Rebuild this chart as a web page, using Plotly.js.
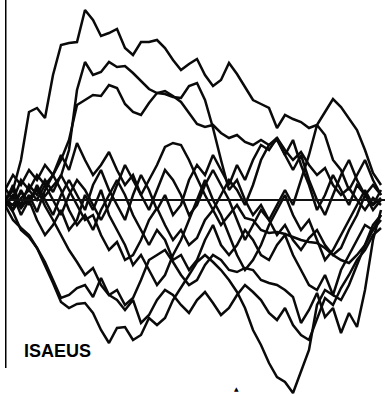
<!DOCTYPE html>
<html>
<head>
<meta charset="utf-8">
<script src="https://cdn.plot.ly/plotly-3.0.1.min.js"></script>
<style>html,body{margin:0;padding:0;background:#fff;}#chart{width:385px;height:394px;}</style>
</head>
<body>
<div id="chart"></div>
<script>
// step positions along the horizontal axis
const steps = [0,8,16,24,32,40,48,56,64,72,80,88,96,104,112,120,128,136,144,152,160,168,176,184,192,200,208,216,224,232,240,248,256,264,272,280,288,296,304,312,320,328,336,344,352,360,368,376];

// walk values (deviation from the base line)
const walkA = [0,10,40,88,92,82,125,155,157,158,190,180,164,167,171,152,145,158,158,160,152,140,130,136,141,125,114,120,137,126,113,100,96,92,72,85,81,78,72,75,88,101,93,82,70,50,27,15];
const walkB = [-5,5,-8,2,10,4,14,24,50,110,138,125,128,138,133,134,127,119,111,107,106,103,102,114,117,100,72,40,10,20,0,-15,-5,-20,-35,-25,-40,-50,-38,-30,-45,-55,-48,-30,-15,5,-5,2];
const walkC = [0,-10,2,10,0,15,25,40,60,95,100,105,104,115,112,96,88,85,97,107,109,104,98,87,76,73,75,67,62,65,58,55,60,55,62,50,40,48,35,25,32,15,5,12,0,-10,2,-5];
const walkD = [0,-12,-30,-37,-48,-65,-83,-102,-108,-104,-103,-113,-130,-143,-128,-127,-140,-135,-118,-125,-118,-100,-88,-75,-62,-55,-62,-70,-80,-92,-108,-130,-145,-163,-177,-182,-193,-172,-150,-105,-90,-95,-70,-55,-40,-25,-30,-15];
const walkE = [0,-5,8,-3,12,-6,-20,-35,-50,-62,-75,-68,-85,-95,-90,-105,-98,-80,-60,-55,-50,-62,-75,-85,-80,-65,-55,-60,-70,-72,-68,-70,-80,-83,-85,-90,-97,-123,-110,-93,-117,-108,-133,-113,-127,-90,-40,-10];
const walkF = [0,10,-5,15,5,20,8,25,10,-5,-20,-15,-35,-50,-42,-60,-55,-40,-20,-8,-25,-40,-30,-45,-38,-20,-10,-25,-15,-5,-18,-20,-30,-33,-32,-34,-37,-40,-42,-43,-48,-55,-60,-63,-55,-45,-30,-20];
const walkH = [10,25,15,30,20,35,25,45,30,57,40,25,35,48,30,15,25,5,20,35,53,57,55,40,22,5,-10,5,20,10,-5,15,40,55,60,45,30,45,20,0,-15,5,25,40,20,5,15,5];
const walkI = [-5,-20,-28,-35,-48,-62,-80,-98,-95,-88,-85,-97,-78,-95,-100,-110,-100,-123,-115,-100,-90,-95,-105,-113,-100,-92,-103,-115,-108,-95,-85,-92,-100,-113,-120,-108,-125,-135,-140,-118,-98,-105,-88,-75,-60,-50,-35,-28];
const walkJ = [5,-10,10,-5,15,0,-15,5,20,5,-10,15,30,10,-5,-20,5,25,10,-10,5,-15,-5,20,35,25,45,30,15,35,20,40,55,50,62,45,60,35,15,-10,5,25,10,-5,15,5,-10,0];
const walkK = [-3,15,-8,5,-12,10,25,10,-10,-25,-15,-30,-10,5,20,5,-15,-30,-45,-30,-40,-60,-55,-70,-60,-40,-25,-45,-55,-45,-30,-40,-55,-60,-45,-35,-55,-70,-85,-90,-75,-95,-100,-85,-65,-45,-25,-15];
const walkL = [12,0,20,10,25,15,0,-15,5,20,10,-5,-20,-5,15,35,20,5,-10,10,30,20,5,-15,-5,15,30,15,0,-20,-40,-25,-10,-20,-5,10,-5,20,45,75,65,40,30,10,25,40,20,5];
const walkM = [-8,5,-15,0,-20,-35,-25,-10,-30,-20,5,-10,10,-15,-30,-45,-65,-55,-70,-85,-75,-55,-40,-20,0,20,0,-15,-35,-55,-70,-60,-45,-25,-10,5,-15,-30,-20,-40,-60,-50,-35,-20,-5,10,-5,10];

const walks = [walkA,walkB,walkC,walkD,walkE,walkF,walkH,walkI,walkJ,walkK,walkL,walkM];
const label = "ISAEUS";

const traces = walks.map(w => ({
  x: steps, y: w, type: 'scatter', mode: 'lines',
  line: {color: '#0a0a0a', width: 2.5}, hoverinfo: 'skip', showlegend: false
}));

const layout = {
  width: 385, height: 394,
  margin: {l: 5, r: 0, t: 0, b: 0},
  paper_bgcolor: '#fff', plot_bgcolor: '#fff',
  xaxis: {range: [0, 380], showgrid: false, zeroline: false, showticklabels: false, showline: false, ticks: ''},
  yaxis: {range: [-194, 200], showgrid: false, zeroline: false, showticklabels: false, showline: false, ticks: ''},
  shapes: [
    {type: 'line', xref: 'x', yref: 'y', x0: 0, x1: 380, y0: 0, y1: 0, line: {color: '#111', width: 1.8}},
    {type: 'line', xref: 'x', yref: 'y', x0: 0, x1: 0, y0: 200, y1: -168, line: {color: '#000', width: 3}}
  ],
  annotations: [
    {x: 17, y: -151, xref: 'x', yref: 'y', xanchor: 'left', yanchor: 'middle', showarrow: false,
     text: '<b>' + label + '</b>', font: {family: 'Liberation Sans, Arial, sans-serif', size: 18, color: '#000'}},
    {x: 231, y: -188, xref: 'x', yref: 'y', xanchor: 'center', yanchor: 'middle', showarrow: false,
     text: '▲', font: {family: 'DejaVu Sans', size: 6, color: '#000'}}
  ]
};

Plotly.newPlot('chart', traces, layout, {staticPlot: true, displayModeBar: false});
</script>
</body>
</html>
